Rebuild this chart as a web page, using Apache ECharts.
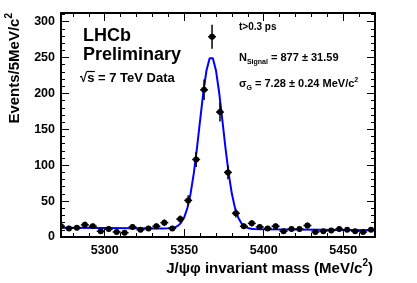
<!DOCTYPE html>
<html><head><meta charset="utf-8">
<script src="https://cdn.jsdelivr.net/npm/echarts@6/dist/echarts.min.js"></script>
<style>html,body{margin:0;padding:0;background:#fff}#c{width:417px;height:283px}</style>
</head><body><div id="c"></div>
<script>
// ---- data ----
const binCenters = [5272.5,5277.5,5282.5,5287.5,5292.5,5297.5,5302.5,5307.5,5312.5,5317.5,
  5322.5,5327.5,5332.5,5337.5,5342.5,5347.5,5352.5,5357.5,5362.5,5367.5,
  5372.5,5377.5,5382.5,5387.5,5392.5,5397.5,5402.5,5407.5,5412.5,5417.5,
  5422.5,5427.5,5432.5,5437.5,5442.5,5447.5,5452.5,5457.5,5462.5,5467.5];
const counts = [15,12,13,17,15,8,11,7,6,14,
  10,12,15,20,12,25,51,108,205,279,
  174,90,33,15,19,14,12,15,8,11,
  11,16,7,8,9,11,10,8,7,10];
const errors = [3.9,3.5,3.6,4.1,3.9,2.8,3.3,2.6,2.4,3.7,
  3.2,3.5,3.9,4.5,3.5,5.0,7.1,10.4,14.3,16.7,
  13.2,9.5,5.7,3.9,4.4,3.7,3.5,3.9,2.8,3.3,
  3.3,4.0,2.6,2.8,3.0,3.3,3.2,2.8,2.6,3.2];
const fitX = [5272.5,5300,5320,5330,5336,5340,5342,5344,5346,5348,5350,5352,5354,5356,5358,5360,5362,5364,5366,5367,
  5368,5370,5372,5374,5376,5378,5380,5382,5384,5386,5388,5390,5392,5394,5398,5420,5450,5470];
const fitY = [13,12.5,12.2,12.0,11.9,12.1,12.5,13.4,15.5,19.7,27.4,40.4,60.3,88.2,123.3,162.6,201.0,231.9,249.1,251.4,
  249.1,231.8,200.9,162.4,123.0,87.8,59.8,39.9,26.8,19.0,14.7,12.6,11.6,11.1,10.8,10.4,9.9,9.5];
const xRange = [5272.5, 5470];
const yRange = [0, 312];

const FONT = '"Liberation Sans", Arial, sans-serif';
const ctx = document.createElement('canvas').getContext('2d');
function fontOf(size){ return 'bold ' + size + 'px ' + FONT; }
function measure(parts){ let w=0; parts.forEach(p=>{ctx.font=fontOf(p[1]); w+=ctx.measureText(p[0]).width;}); return w; }
function seq(x0, baseline, parts){
  const out=[]; let cx=x0; const pos=[];
  parts.forEach(p=>{
    const size=p[1], dy=p[2]||0;
    ctx.font=fontOf(size);
    const w=ctx.measureText(p[0]).width;
    out.push({type:'text', x:cx, y:baseline+dy-0.35*size,
      style:{text:p[0], font:fontOf(size), fill:'#000', align:'left', verticalAlign:'middle'}});
    pos.push([cx,w]); cx+=w;
  });
  return {els:out, pos:pos, end:cx};
}

const graphics = [];
graphics.push(...seq(83, 42, [['LHCb',18]]).els);
graphics.push(...seq(83, 61, [['Preliminary',18]]).els);
const sq = seq(80, 83, [['√',13],['s',13],[' = 7 TeV Data',13]]);
graphics.push(...sq.els);
graphics.push({type:'line', shape:{x1:sq.pos[1][0]-0.5, y1:83-11.5, x2:sq.pos[1][0]+sq.pos[1][1]+0.5, y2:83-11.5}, style:{stroke:'#000', lineWidth:1.2}});
graphics.push(...seq(239, 31, [['t>0.3 ps',10]]).els);
graphics.push(...seq(239, 62, [['N',11],['Signal',7,2.5],[' = 877 ± 31.59',11]]).els);
graphics.push(...seq(239, 88, [['σ',11],['G',7,2.5],[' = 7.28 ± 0.24 MeV/c',11],['2',7,-5]]).els);
const xt = [['J/ψφ invariant mass (MeV/c',15],['2',10,-7],[')',15]];
graphics.push(...seq(373 - measure(xt), 274, xt).els);
const yt = [['Events/5MeV/c',15],['2',10,-7]];
const ytW = measure(yt);
graphics.push({type:'group', x:20, y:13+ytW, rotation:Math.PI/2, children:seq(0,0,yt).els});

const axisCommon = {
  axisLine:{show:true, onZero:false, lineStyle:{color:'#000', width:2}},
  axisTick:{show:true, inside:true, length:8, lineStyle:{color:'#000', width:1}},
  minorTick:{show:true, splitNumber:5, length:4, lineStyle:{color:'#000', width:1}},
  splitLine:{show:false}, minorSplitLine:{show:false}
};
const labelStyle = {color:'#000', fontFamily:FONT, fontWeight:'bold', fontSize:12.5, formatter:function(v){return String(v);}};

const chart = echarts.init(document.getElementById('c'), null, {renderer:'canvas'});
chart.setOption({
  animation:false,
  backgroundColor:'#fff',
  grid:{left:61, right:42, top:13, bottom:46, containLabel:false},
  xAxis:[
    Object.assign({type:'value', min:xRange[0], max:xRange[1], splitNumber:4, position:'bottom',
      axisLabel:Object.assign({showMinLabel:false, showMaxLabel:false, margin:7}, labelStyle)}, axisCommon),
    Object.assign({type:'value', min:xRange[0], max:xRange[1], splitNumber:4, position:'top',
      axisLabel:{show:false}}, axisCommon)
  ],
  yAxis:[
    Object.assign({type:'value', min:yRange[0], max:yRange[1], interval:50, position:'left',
      axisLabel:Object.assign({showMaxLabel:false, margin:6}, labelStyle)}, axisCommon),
    Object.assign({type:'value', min:yRange[0], max:yRange[1], interval:50, position:'right',
      axisLabel:{show:false}}, axisCommon)
  ],
  series:[
    {type:'line', data:fitX.map((x,i)=>[x,fitY[i]]), showSymbol:false, symbol:'none',
      lineStyle:{color:'#0000ff', width:2}, clip:true, z:2},
    {type:'custom', data:binCenters.map((x,i)=>[x,counts[i],errors[i]]), clip:true, z:3,
      renderItem:function(params, api){
        const x=api.value(0), y=api.value(1), e=api.value(2);
        const c=api.coord([x,y]), t=api.coord([x,y+e]), b=api.coord([x,y-e]);
        const l=api.coord([x-2.5,y]), r=api.coord([x+2.5,y]);
        return {type:'group', children:[
          {type:'line', shape:{x1:c[0],y1:t[1],x2:c[0],y2:b[1]}, style:{stroke:'#000', lineWidth:1.5}},
          {type:'line', shape:{x1:l[0],y1:c[1],x2:r[0],y2:c[1]}, style:{stroke:'#000', lineWidth:1.5}},
          {type:'circle', shape:{cx:c[0],cy:c[1],r:3}, style:{fill:'#000'}}
        ]};
      }}
  ],
  graphic:graphics
});
</script>
</body></html>
